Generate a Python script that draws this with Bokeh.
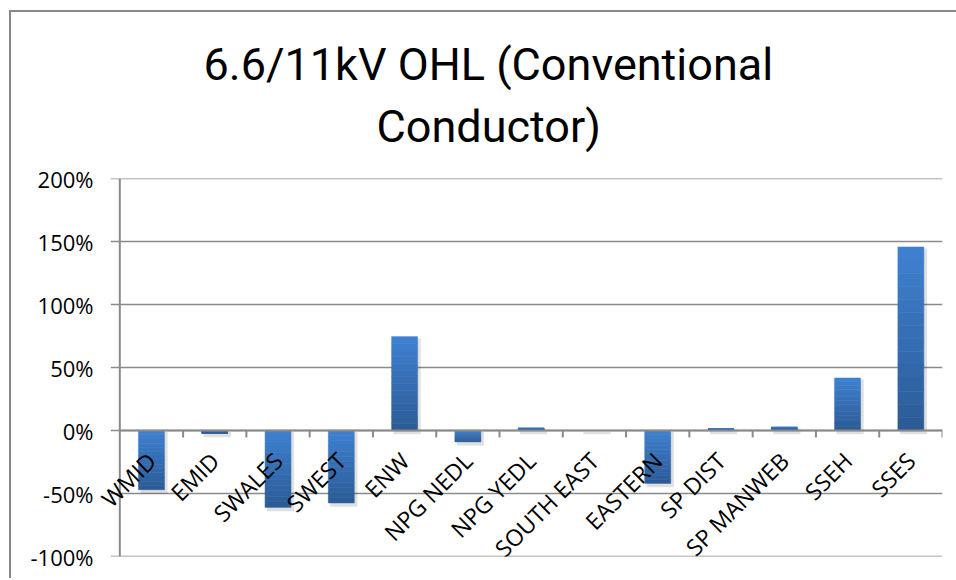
import math
import numpy as np
from bokeh.plotting import figure
from bokeh.models import Range1d, NumeralTickFormatter, FixedTicker, Title, LinearAxis
from bokeh.embed import file_html
from bokeh.resources import INLINE

categories = ["WMID", "EMID", "SWALES", "SWEST", "ENW", "NPG NEDL", "NPG YEDL",
              "SOUTH EAST", "EASTERN", "SP DIST", "SP MANWEB", "SSEH", "SSES"]
values = [-0.47, -0.023, -0.61, -0.575, 0.745, -0.09, 0.02, 0.0, -0.42,
          0.015, 0.028, 0.417, 1.457]
y_ticks = [-1.0, -0.5, 0.0, 0.5, 1.0, 1.5, 2.0]
title_lines = ["6.6/11kV OHL (Conventional", "Conductor)"]

n = len(categories)
GREY = "#8a8a8a"
FONT = "Open Sans"
TITLE_FONT = "Roboto"
X_PAD = 0.4          # room left of the value axis for the first rotated label
TICK_OUT = 0.1425    # tick length left of the value axis, in category units

p = figure(width=945, height=566, output_backend="svg", toolbar_location=None,
           x_range=Range1d(-X_PAD, n), y_range=Range1d(-1.0, 2.0),
           x_axis_location=None,
           min_border_left=83, min_border_right=16, min_border_top=166,
           min_border_bottom=24)
p.title = None
p.outline_line_color = None
p.background_fill_color = "white"
p.border_fill_color = "white"
p.styles = {"border-left": "2px solid #888888", "border-top": "2px solid #888888",
            "box-sizing": "content-box", "overflow": "visible",
            "margin-left": "9px", "margin-top": "10px"}
p.xgrid.visible = False
p.ygrid.visible = False

# value axis labels (line and ticks drawn at x = 0 below)
ax = p.yaxis[0]
ax.ticker = FixedTicker(ticks=y_ticks)
ax.formatter = NumeralTickFormatter(format="0%")
ax.axis_line_color = None
ax.major_tick_line_color = None
ax.minor_tick_line_color = None
ax.major_tick_out = 0
ax.major_tick_in = 0
ax.major_label_standoff = 1
ax.major_label_text_font = FONT
ax.major_label_text_font_size = "22px"
ax.major_label_text_color = "black"

# gridlines + outward ticks
p.segment(x0=[-TICK_OUT] * len(y_ticks), x1=[n] * len(y_ticks), y0=y_ticks, y1=y_ticks,
          line_color=GREY, line_width=1.5)
# value axis line
p.segment(x0=[0], x1=[0], y0=[y_ticks[0]], y1=[y_ticks[-1]], line_color=GREY, line_width=2)

bar_w = 0.41
xc = [i + 0.5 for i in range(n)]

# category axis crossing at zero
xax = LinearAxis(fixed_location=0)
xax.ticker = FixedTicker(ticks=xc)
xax.major_label_overrides = {x: c for x, c in zip(xc, categories)}
xax.major_label_orientation = math.pi / 4
xax.axis_line_color = None
xax.major_tick_line_color = None
xax.minor_tick_line_color = None
xax.major_tick_out = 0
xax.major_tick_in = 0
xax.major_label_standoff = 26
xax.major_label_text_font = FONT
xax.major_label_text_font_size = "23px"
xax.major_label_text_color = "black"
p.add_layout(xax, "below")

# shadow
p.quad(left=[x - bar_w / 2 + 0.03 for x in xc], right=[x + bar_w / 2 + 0.05 for x in xc],
       top=[max(v, 0) - 0.012 for v in values], bottom=[min(v, 0) - 0.03 for v in values],
       fill_color="black", fill_alpha=0.12, line_color=None)

# gradient bars
light = np.array([0x3e, 0x80, 0xcf])
dark = np.array([0x2c, 0x5c, 0x97])
steps = 14
L, R, T, B, C = [], [], [], [], []
for x, v in zip(xc, values):
    top, bot = max(v, 0), min(v, 0)
    if top == bot:
        continue
    edges = np.linspace(top, bot, steps + 1)
    for k in range(steps):
        c = light + (dark - light) * (k / (steps - 1))
        L.append(x - bar_w / 2)
        R.append(x + bar_w / 2)
        T.append(edges[k])
        B.append(edges[k + 1])
        C.append("#%02x%02x%02x" % tuple(int(round(t)) for t in c))
p.quad(left=L, right=R, top=T, bottom=B, fill_color=C, line_color=C, line_width=0.5)

# category axis line at zero and boundary tick marks
p.segment(x0=[0], x1=[n], y0=[0], y1=[0], line_color=GREY, line_width=2)
p.segment(x0=list(range(1, n + 1)), x1=list(range(1, n + 1)),
          y0=[0] * n, y1=[-0.055] * n, line_color=GREY, line_width=2)

# title: spacer between frame and the two title lines
spacer = Title(text=" ", text_font_size="1px", standoff=16)
t2 = Title(text=title_lines[1], align="left", offset=282, standoff=14,
           text_font=TITLE_FONT, text_font_size="45px", text_font_style="normal",
           text_color="black")
t1 = Title(text=title_lines[0], align="left", offset=109, standoff=0,
           text_font=TITLE_FONT, text_font_size="45px", text_font_style="normal",
           text_color="black")
p.add_layout(spacer, "above")
p.add_layout(t2, "above")
p.add_layout(t1, "above")

open("out.html", "w").write(file_html(p, INLINE))
